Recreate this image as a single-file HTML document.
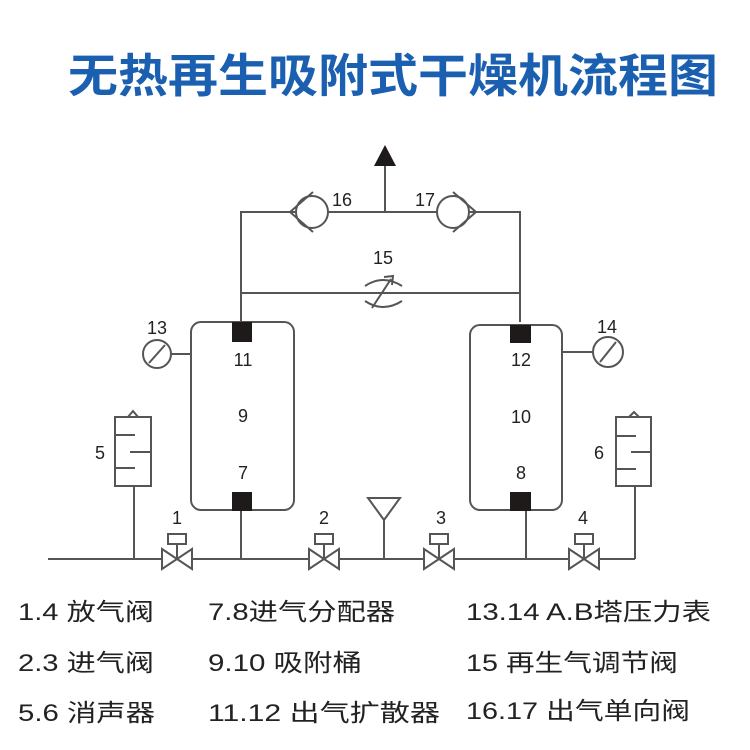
<!DOCTYPE html>
<html><head><meta charset="utf-8"><style>
html,body{margin:0;padding:0;background:#fff;}
svg{display:block}
</style></head><body>
<svg width="750" height="750" viewBox="0 0 750 750" xmlns="http://www.w3.org/2000/svg">
<text x="393" y="92" text-anchor="middle" font-family="Liberation Sans,'Noto Sans CJK SC',sans-serif" font-weight="bold" font-size="46" fill="#1a5fb0" textLength="650" lengthAdjust="spacingAndGlyphs">无热再生吸附式干燥机流程图</text>
<g stroke="#555" stroke-width="2" fill="none">
<polyline points="241,322 241,212 520,212 520,322"/>
<line x1="241" y1="293" x2="520" y2="293"/>
<line x1="385" y1="212" x2="385" y2="165"/>
<circle cx="312" cy="212" r="16" fill="#fff"/>
<polyline points="313,192 290,212 313,232"/>
<circle cx="453" cy="212" r="16" fill="#fff"/>
<polyline points="453,192 476,212 453,232"/>
<path d="M365,286 Q383,274 402,286"/>
<path d="M365,301 Q383,313 402,301"/>
<line x1="372" y1="308" x2="391" y2="279"/>
<polyline points="384,277 393,276 392,285"/>
<rect x="191" y="322" width="103" height="188" rx="10" fill="#fff"/>
<rect x="470" y="325" width="92" height="185" rx="10" fill="#fff"/>
<line x1="170" y1="354" x2="191" y2="354"/>
<circle cx="157" cy="354" r="14" fill="#fff"/>
<line x1="149" y1="363" x2="165" y2="345"/>
<line x1="562" y1="352" x2="593" y2="352"/>
<circle cx="608" cy="352" r="15" fill="#fff"/>
<line x1="600" y1="362" x2="616" y2="342"/>
<rect x="115" y="417" width="36" height="69" fill="#fff"/>
<line x1="115" y1="435" x2="135" y2="435"/><line x1="130" y1="452" x2="151" y2="452"/><line x1="115" y1="468" x2="135" y2="468"/>
<polyline points="128,417 133,411 138,417"/>
<line x1="134" y1="486" x2="134" y2="559"/>
<rect x="616" y="417" width="35" height="69" fill="#fff"/>
<line x1="616" y1="436" x2="636" y2="436"/><line x1="631" y1="452" x2="651" y2="452"/><line x1="616" y1="469" x2="636" y2="469"/>
<polyline points="629,417 634,412 639,417"/>
<line x1="635" y1="486" x2="635" y2="559"/>
<line x1="48" y1="559" x2="635" y2="559"/>
<line x1="241" y1="510" x2="241" y2="559"/>
<line x1="526" y1="510" x2="526" y2="559"/>
<line x1="384" y1="517" x2="384" y2="559"/>
<polygon points="368,498 400,498 384,520" fill="#fff"/>
</g>
<g stroke="#555" stroke-width="2" fill="#fff">
<g transform="translate(177,559)"><polygon points="-15,-10 15,10 15,-10 -15,10"/><line x1="0" y1="0" x2="0" y2="-15"/><rect x="-9" y="-25" width="18" height="10"/></g>
<g transform="translate(324,559)"><polygon points="-15,-10 15,10 15,-10 -15,10"/><line x1="0" y1="0" x2="0" y2="-15"/><rect x="-9" y="-25" width="18" height="10"/></g>
<g transform="translate(439,559)"><polygon points="-15,-10 15,10 15,-10 -15,10"/><line x1="0" y1="0" x2="0" y2="-15"/><rect x="-9" y="-25" width="18" height="10"/></g>
<g transform="translate(584,559)"><polygon points="-15,-10 15,10 15,-10 -15,10"/><line x1="0" y1="0" x2="0" y2="-15"/><rect x="-9" y="-25" width="18" height="10"/></g>
</g>
<g fill="#1e1a1a">
<rect x="232" y="322" width="20" height="20"/><rect x="232" y="492" width="20" height="19"/>
<rect x="510" y="325" width="21" height="18"/><rect x="510" y="492" width="21" height="19"/>
<polygon points="385,145 374,166 396,166"/>
</g>
<g font-family="Liberation Sans,sans-serif" font-size="18" fill="#222" text-anchor="middle">
<text x="342" y="206">16</text><text x="425" y="206">17</text><text x="383" y="264">15</text>
<text x="157" y="334">13</text><text x="607" y="333">14</text>
<text x="243" y="366">11</text><text x="243" y="422">9</text><text x="243" y="479">7</text>
<text x="521" y="366">12</text><text x="521" y="423">10</text><text x="521" y="479">8</text>
<text x="100" y="459">5</text><text x="599" y="459">6</text>
<text x="177" y="524">1</text><text x="324" y="524">2</text><text x="441" y="524">3</text><text x="583" y="524">4</text>
</g>
<g font-family="Liberation Sans,'Noto Sans CJK SC',sans-serif" font-size="24" fill="#222" lengthAdjust="spacingAndGlyphs">
<text x="18" y="620" textLength="136" lengthAdjust="spacingAndGlyphs">1.4 放气阀</text>
<text x="208" y="620" textLength="187" lengthAdjust="spacingAndGlyphs">7.8进气分配器</text>
<text x="466" y="620" textLength="245" lengthAdjust="spacingAndGlyphs">13.14 A.B塔压力表</text>
<text x="18" y="671" textLength="136" lengthAdjust="spacingAndGlyphs">2.3 进气阀</text>
<text x="208" y="671" textLength="154" lengthAdjust="spacingAndGlyphs">9.10 吸附桶</text>
<text x="466" y="671" textLength="212" lengthAdjust="spacingAndGlyphs">15 再生气调节阀</text>
<text x="18" y="721" textLength="137" lengthAdjust="spacingAndGlyphs">5.6 消声器</text>
<text x="208" y="721" textLength="232" lengthAdjust="spacingAndGlyphs">11.12 出气扩散器</text>
<text x="466" y="719" textLength="224" lengthAdjust="spacingAndGlyphs">16.17 出气单向阀</text>
</g>
</svg>
</body></html>
